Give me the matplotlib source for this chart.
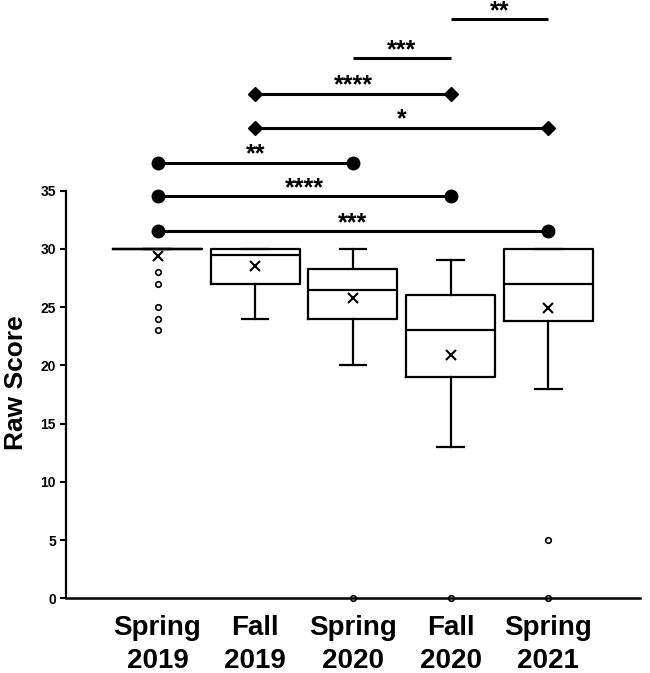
import matplotlib
matplotlib.use("Agg")
import matplotlib.pyplot as plt

plt.rcParams['font.family'] = ['Liberation Sans', 'DejaVu Sans']
plt.rcParams['font.weight'] = 'bold'

categories = ['Spring\n2019', 'Fall\n2019', 'Spring\n2020', 'Fall\n2020', 'Spring\n2021']
q1 = [30, 27, 24, 19, 23.8]
medians = [30, 29.5, 26.5, 23, 27]
q3 = [30, 30, 28.25, 26, 30]
whislo = [30, 24, 20, 13, 18]
whishi = [30, 30, 30, 29, 30]
means = [29.4, 28.5, 25.8, 20.9, 24.9]
fliers = [[28, 27, 25, 24, 23], [], [0], [0], [5, 0]]

sig_pairs = [(1, 5), (1, 4), (1, 3), (2, 5), (2, 4), (3, 4), (4, 5)]
sig_heights = [31.5, 34.5, 37.4, 40.4, 43.3, 46.35, 49.7]
sig_labels = ['***', '****', '**', '*', '****', '***', '**']
sig_markers = ['o', 'o', 'o', 'D', 'D', None, None]

fig = plt.figure(figsize=(6.5, 6.73), dpi=100)
ax = fig.add_axes([0.101, 0.111, 0.884, 0.889])

stats = []
for i in range(len(categories)):
    stats.append(dict(med=medians[i], q1=q1[i], q3=q3[i], whislo=whislo[i],
                      whishi=whishi[i], mean=means[i], fliers=fliers[i]))

positions = list(range(1, len(categories) + 1))
bp = ax.bxp(stats, positions=positions, widths=0.91, capwidths=0.27,
            showmeans=True, showfliers=True, patch_artist=False,
            boxprops=dict(color='black', linewidth=1.6),
            medianprops=dict(color='black', linewidth=1.6),
            whiskerprops=dict(color='black', linewidth=1.6),
            capprops=dict(color='black', linewidth=1.6),
            meanprops=dict(marker='x', markeredgecolor='black', markersize=6.5,
                           markeredgewidth=1.5, linestyle='none'),
            flierprops=dict(marker='o', markerfacecolor='white', markeredgecolor='black',
                            markersize=4, markeredgewidth=1.2, linestyle='none'))
for f in bp['fliers']:
    f.set_clip_on(False)
    f.set_zorder(1.5)

for (a, b), h, lab, m in zip(sig_pairs, sig_heights, sig_labels, sig_markers):
    ax.plot([a, b], [h, h], color='black', linewidth=2.2, clip_on=False,
            marker=m if m else None,
            markersize=(9 if m == 'o' else 6.8), solid_capstyle='butt')
    ax.text((a + b) / 2, h + 0.1, lab, ha='center', va='baseline',
            fontsize=18, fontweight='bold')

ax.set_xlim(0.06, 5.94)
ax.set_ylim(0, 51.36)
ax.set_yticks(range(0, 36, 5))
ax.set_xticks(positions)
ax.set_xticklabels(categories, fontsize=20, fontweight='bold', linespacing=1.35)
ax.tick_params(axis='x', length=0, pad=12)
ax.tick_params(axis='y', length=4, width=1.5, labelsize=10, pad=3)
for t in ax.get_yticklabels():
    t.set_fontweight('bold')

ax.spines['top'].set_visible(False)
ax.spines['right'].set_visible(False)
ax.spines['left'].set_bounds(0, 35)
ax.spines['left'].set_linewidth(1.6)
ax.spines['bottom'].set_linewidth(1.8)

ax.set_ylabel('Raw Score', fontsize=19, fontweight='bold', labelpad=9)
ax.yaxis.label.set_position((0, (598.3 - 383) / 11.65 / 51.36))

fig.savefig('out.png', dpi=100)
